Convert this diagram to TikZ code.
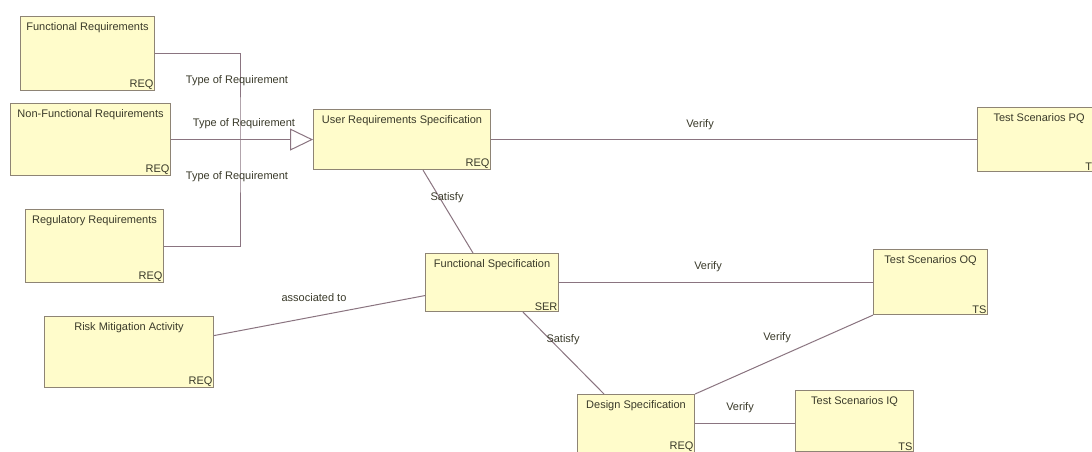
\documentclass[tikz,border=0pt]{standalone}
\usepackage{fontspec}
\setmainfont{Liberation Sans}
\usetikzlibrary{arrows.meta,calc}
\definecolor{boxfill}{HTML}{FFFCCB}
\definecolor{boxline}{HTML}{8E8475}
\definecolor{conn}{HTML}{8A7480}
\definecolor{txt}{HTML}{3A3A2A}
\tikzset{
  reqbox/.style={draw=boxline, line width=1.1pt, fill=boxfill, inner sep=0pt, anchor=north west},
  ttl/.style={font=\fontsize{11}{13}\selectfont, text=txt, inner sep=0pt, anchor=center},
  tag/.style={font=\fontsize{11}{13}\selectfont, text=txt, inner sep=1.5pt, anchor=south east},
  lbl/.style={font=\fontsize{11}{13}\selectfont, text=txt, inner sep=0pt},
  wire/.style={draw=conn, line width=1pt}
}
% \mkbox{name}{x1}{y1}{x2}{y2}{title}{tag}
\newcommand{\mkbox}[7]{%
  \node[reqbox, minimum width={(#4-#2)*1pt}, minimum height={(#5-#3)*1pt}] (#1) at (#2,#3) {};
  \node[ttl] (#1-t) at ($(#1.north)+(0,12)$) {#6};
  \node[tag] (#1-g) at (#1.south east) {#7};
}
\begin{document}
\begin{tikzpicture}[x=1pt,y=-1pt]
\useasboundingbox (0,0) rectangle (1092,451);
\clip (0,0) rectangle (1092,451);
\fill[white] (0,0) rectangle (1092,451);

\mkbox{fr}{20}{16}{154}{90}{Functional Requirements}{REQ}
\mkbox{nfr}{10}{103}{170}{175}{Non-Functional Requirements}{REQ}
\mkbox{reg}{25}{209}{163}{282}{Regulatory Requirements}{REQ}
\mkbox{risk}{44}{316}{213}{387}{Risk Mitigation Activity}{REQ}
\mkbox{urs}{313}{109}{490}{169}{User Requirements Specification}{REQ}
\mkbox{fs}{425}{253}{558}{311}{Functional Specification}{SER}
\mkbox{ds}{577}{394}{694}{452}{Design Specification}{REQ}
\mkbox{oq}{873}{249}{987}{314}{Test Scenarios OQ}{TS}
\mkbox{iq}{795}{390}{913}{451}{Test Scenarios IQ}{TS}
\mkbox{pq}{977}{107}{1100}{171}{Test Scenarios PQ}{TS}

\coordinate (jn) at (240,140);
\draw[wire] (fr.east) -| (jn) |- (reg.east);
\draw[wire, -{Triangle[open, length=23pt, width=22pt, color=conn]}] (nfr.east) -- (urs.west);
\draw[wire] (urs.east) -- (pq.west);
\draw[wire] ([xshift=110pt]urs.south west) -- ([xshift=48pt]fs.north west);
\draw[wire] (fs.east) -- (fs.east -| oq.west);
\draw[wire] ([yshift=16.5pt]risk.east) -- ([yshift=-13pt]fs.west);
\draw[wire] ([xshift=98pt]fs.south west) -- ([xshift=27pt]ds.north west);
\draw[wire] (ds.north east) -- (oq.south west);
\draw[wire] (ds.east) -- (ds.east -| iq.west);

\node[lbl] (l1) at (237,81) {Type of Requirement};
\node[lbl] (l2) at (244,124) {Type of Requirement};
\node[lbl] (l3) at (237,177) {Type of Requirement};
\node[lbl] (l4) at (700,125) {Verify};
\node[lbl] (l5) at (447,198) {Satisfy};
\node[lbl] (l6) at (708,267) {Verify};
\node[lbl] (l7) at (314,298) {associated to};
\node[lbl] (l8) at (563,340) {Satisfy};
\node[lbl] (l9) at (777,338) {Verify};
\node[lbl] (l10) at (740,408) {Verify};
\end{tikzpicture}
\end{document}
